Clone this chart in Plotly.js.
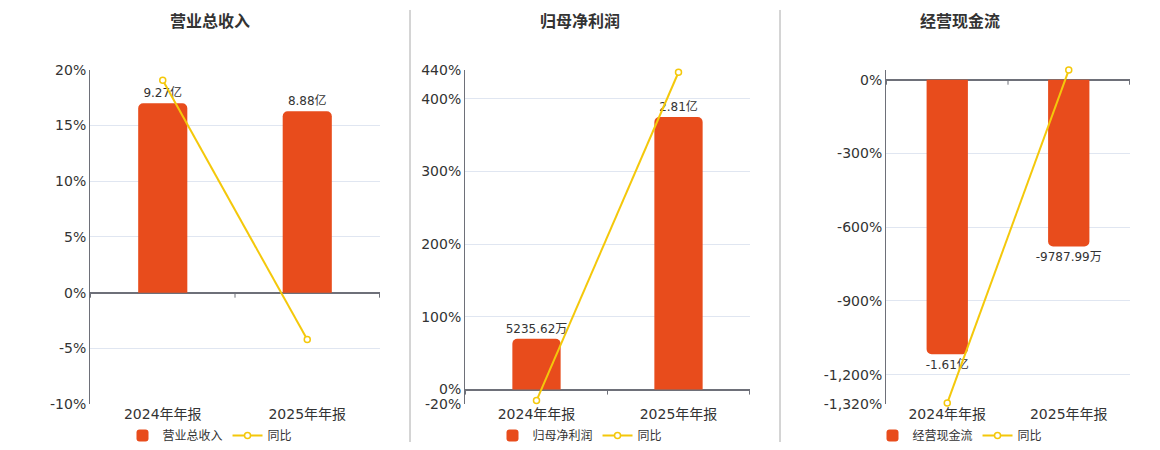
<!DOCTYPE html>
<html>
<head>
<meta charset="utf-8">
<script src="https://cdn.plot.ly/plotly-3.0.1.min.js"></script>
<style>
  html, body { margin: 0; padding: 0; background: #fff; }
  #chart { width: 1160px; height: 450px; }
</style>
</head>
<body>
<div id="chart"></div>
<script>
// 报告期
var periods = ['2024年年报', '2025年年报'];

// 数值（亿元）
var revenue = [9.27, 8.88];
var netProfit = [0.523562, 2.81];
var cashFlow = [-1.61, -0.978799];

// 同比（%）
var revenueYoy = [19.07, -4.21];
var profitYoy = [-15.1, 436.7];
var cashYoy = [-1316, 39.2];

// 左轴刻度
var tick1Vals = [-10, -5, 0, 5, 10, 15, 20];
var tick1Text = ['-10%', '-5%', '0%', '5%', '10%', '15%', '20%'];
var tick2Vals = [-20, 0, 100, 200, 300, 400, 440];
var tick2Text = ['-20%', '0%', '100%', '200%', '300%', '400%', '440%'];
var tick3Vals = [-1320, -1200, -900, -600, -300, 0, 40];
var tick3Text = ['-1,320%', '-1,200%', '-900%', '-600%', '-300%', '0%', ''];

var names = ['营业总收入', '归母净利润', '经营现金流'];

var barColor = '#E84C1C';
var lineColor = '#F4C80B';
var axisColor = '#6e7079';
var gridColor = '#e0e6f1';
var font = 'DejaVu Sans, Noto Sans CJK SC, sans-serif';

function fmt(v) {
  // 小于1亿用万显示
  if (Math.abs(v) < 1) return (v * 10000).toFixed(2) + '万';
  return v.toFixed(2) + '亿';
}

function barTrace(vals, xa, ya, name, leg) {
  return {
    type: 'bar', x: periods, y: vals, xaxis: xa, yaxis: ya, name: name,
    legend: leg, marker: {color: barColor},
    text: vals.map(fmt), textposition: 'outside', cliponaxis: false,
    constraintext: 'none',
    textfont: {size: 12, color: '#333'}, hoverinfo: 'skip'
  };
}

function lineTrace(vals, xa, ya, leg) {
  return {
    type: 'scatter', mode: 'lines+markers', x: periods, y: vals,
    xaxis: xa, yaxis: ya, name: '同比', legend: leg,
    line: {color: lineColor, width: 2},
    marker: {size: 6, color: '#fff', line: {color: lineColor, width: 1.5}},
    cliponaxis: false, hoverinfo: 'skip'
  };
}

var data = [
  barTrace(revenue, 'x', 'y', names[0], 'legend'),
  lineTrace(revenueYoy, 'x', 'y2', 'legend'),
  barTrace(netProfit, 'x2', 'y3', names[1], 'legend2'),
  lineTrace(profitYoy, 'x2', 'y4', 'legend2'),
  barTrace(cashFlow, 'x3', 'y5', names[2], 'legend3'),
  lineTrace(cashYoy, 'x3', 'y6', 'legend3')
];

var yDom = [0.1, 0.8444];

function xAxis(dom, anchor) {
  return {
    domain: dom, anchor: anchor, type: 'category', showgrid: false,
    showline: false, ticks: '', zeroline: false, fixedrange: true,
    tickfont: {size: 14, color: '#333'}
  };
}
function barAxis(anchor, range) {
  return {domain: yDom, anchor: anchor, range: range, visible: false, fixedrange: true};
}
function pctAxis(over, anchor, range, vals, text) {
  return {
    overlaying: over, anchor: anchor, side: 'left', range: range,
    tickmode: 'array', tickvals: vals, ticktext: text,
    showgrid: true, gridcolor: gridColor, gridwidth: 1,
    zeroline: true, zerolinecolor: axisColor, zerolinewidth: 2,
    showline: true, linecolor: axisColor, linewidth: 1, ticks: '',
    tickfont: {size: 14, color: '#333'}, fixedrange: true
  };
}

function legendAt(cx) {
  return {
    orientation: 'h', x: cx / 1160, xanchor: 'center', y: 0.031, yanchor: 'middle',
    font: {size: 12, color: '#333'}, bgcolor: 'rgba(0,0,0,0)'
  };
}

function title(text, cx) {
  return {
    text: '<b>' + text + '</b>', xref: 'paper', yref: 'paper',
    x: cx / 1160, y: 1 - 22 / 450, xanchor: 'center', yanchor: 'middle',
    showarrow: false, font: {size: 16, color: '#333'}
  };
}

// 类目分界处的小刻度
var shapes = [];
[['x', 'y2'], ['x2', 'y4'], ['x3', 'y6']].forEach(function (ax) {
  for (var i = 0; i <= periods.length; i++) {
    shapes.push({
      type: 'line', xref: ax[0], yref: ax[1], x0: i - 0.5, x1: i - 0.5,
      ysizemode: 'pixel', yanchor: 0, y0: 0, y1: -5,
      line: {color: axisColor, width: 1}
    });
  }
});
// 分隔竖线
[410, 780].forEach(function (px) {
  shapes.push({
    type: 'line', xref: 'paper', yref: 'paper', x0: px / 1160, x1: px / 1160,
    y0: 1 - 443 / 450, y1: 1 - 10 / 450, line: {color: '#aaaaaa', width: 1}
  });
});

var k1 = 0.5453, k2 = 0.007493, k3 = 0.0014414;

var layout = {
  width: 1160, height: 450,
  margin: {l: 0, r: 0, t: 0, b: 0},
  paper_bgcolor: '#fff', plot_bgcolor: '#fff',
  font: {family: font, color: '#333'},
  bargap: 0.66, barcornerradius: 5,
  xaxis: xAxis([90 / 1160, 380 / 1160], 'y'),
  yaxis: barAxis('x', [-10 * k1, 20 * k1]),
  yaxis2: pctAxis('y', 'x', [-10, 20], tick1Vals, tick1Text),
  xaxis2: xAxis([465 / 1160, 750 / 1160], 'y3'),
  yaxis3: barAxis('x2', [-20 * k2, 440 * k2]),
  yaxis4: pctAxis('y3', 'x2', [-20, 440], tick2Vals, tick2Text),
  xaxis3: xAxis([886 / 1160, 1130 / 1160], 'y5'),
  yaxis5: barAxis('x3', [-1320 * k3, 40 * k3]),
  yaxis6: pctAxis('y5', 'x3', [-1320, 40], tick3Vals, tick3Text),
  legend: legendAt(210),
  legend2: legendAt(580),
  legend3: legendAt(960),
  annotations: [title(names[0], 210), title(names[1], 580), title(names[2], 960)],
  shapes: shapes
};

Plotly.newPlot('chart', data, layout, {displayModeBar: false, staticPlot: true});
</script>
</body>
</html>
